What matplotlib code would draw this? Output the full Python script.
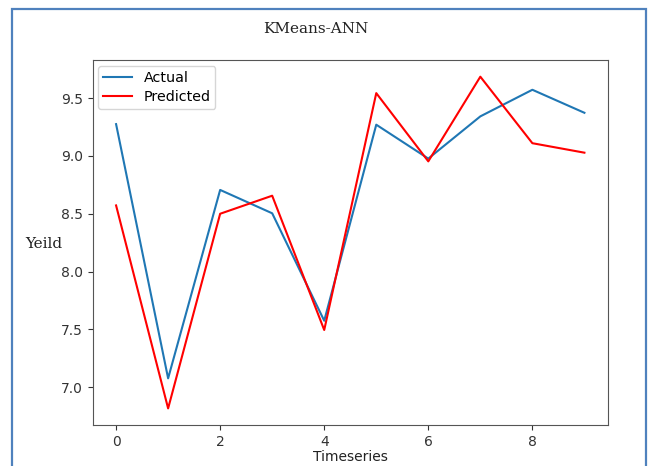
import matplotlib
matplotlib.use("Agg")
import matplotlib.pyplot as plt
from matplotlib.patches import Rectangle

timesteps = list(range(10))
actual = [9.275, 7.077, 8.706, 8.504, 7.575, 9.27, 8.977, 9.342, 9.572, 9.373]
predicted = [8.572, 6.817, 8.50, 8.656, 7.495, 9.543, 8.953, 9.685, 9.11, 9.028]

title = "KMeans-ANN"
xlabel = "Timeseries"
ylabel = "Yeild"

fig = plt.figure(figsize=(6.48, 4.66), dpi=100)
ax = fig.add_axes([0.143, 0.088, 0.795, 0.783])

ax.plot(timesteps, actual, color="#1f77b4", lw=1.5, label="Actual")
ax.plot(timesteps, predicted, color="red", lw=1.5, label="Predicted")

ax.set_xticks([0, 2, 4, 6, 8])
ax.set_yticks([7.0, 7.5, 8.0, 8.5, 9.0, 9.5])
ax.tick_params(labelsize=10, colors="#333333")
for s in ax.spines.values():
    s.set_color("#555555")

ax.set_xlabel(xlabel, fontsize=10, color="#222222", labelpad=1)
ax.legend(loc="upper left", fontsize=10.3, labelspacing=0.38, borderpad=0.35,
          handlelength=2.0, borderaxespad=0.4)

fig.text(0.068, 0.476, ylabel, family="DejaVu Serif", fontsize=11,
         color="#222222", ha="center", va="center")
fig.text(0.488, 0.938, title, family="DejaVu Serif", fontsize=11,
         color="#222222", ha="center", va="center")

border = Rectangle((12 / 648, -0.05), (646 - 12) / 648, (466 - 9) / 466 + 0.05,
                   transform=fig.transFigure, fill=False, edgecolor="#4f81bd",
                   lw=1.6, clip_on=False)
fig.patches.append(border)

fig.savefig("out.png", dpi=100)
